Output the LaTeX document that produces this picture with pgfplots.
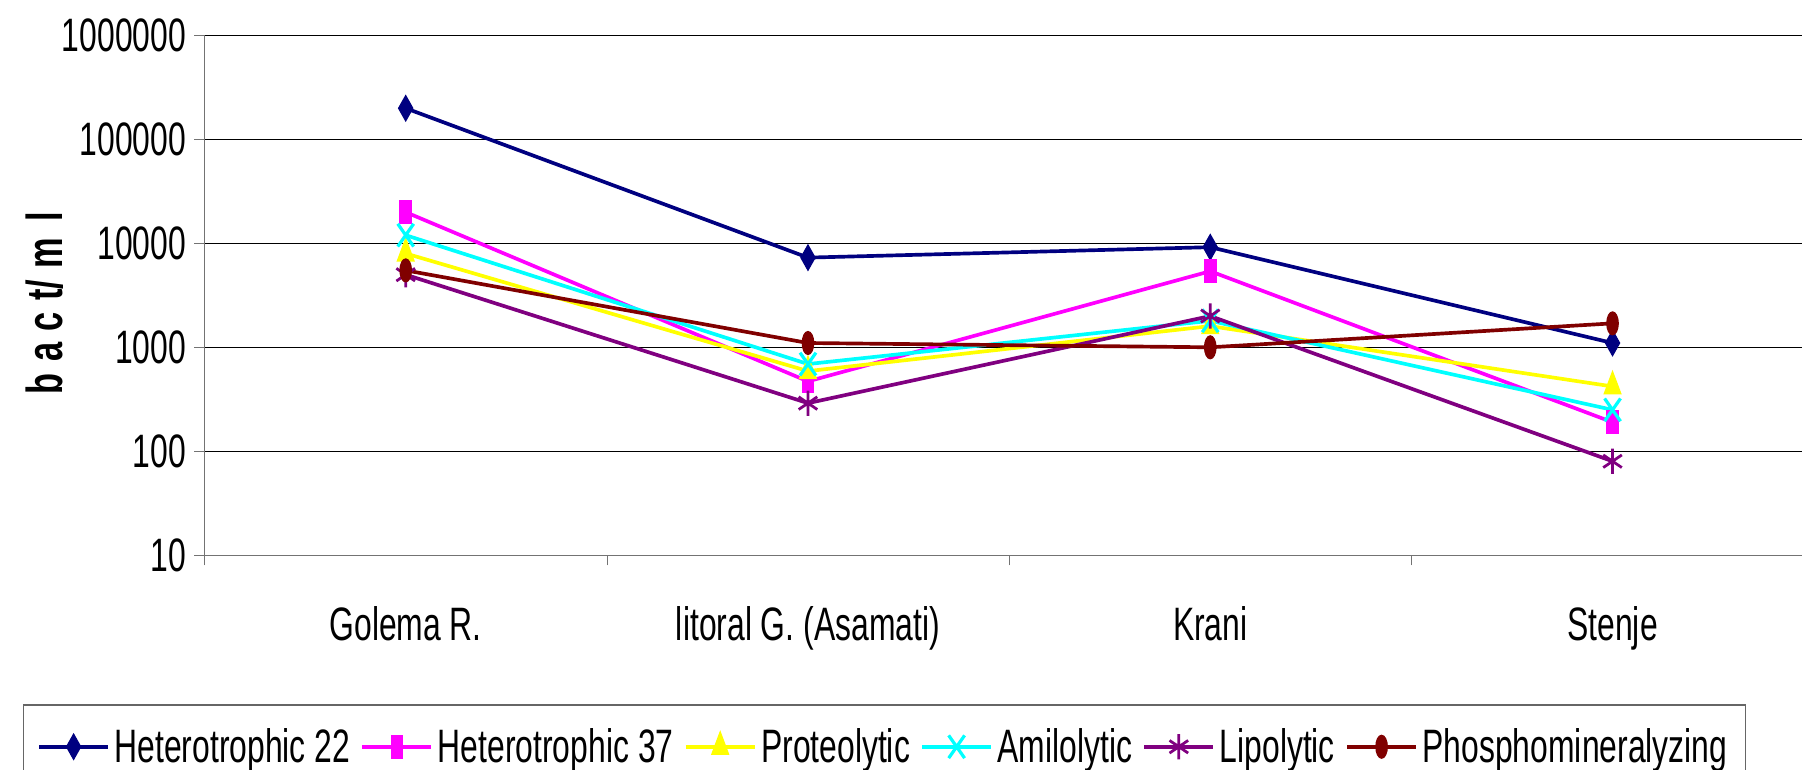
\documentclass[border=0pt]{standalone}
\usepackage{fontspec}
\setmainfont[FakeStretch=0.68]{Liberation Sans}
\usepackage{pgfplots}
\pgfplotsset{compat=1.18}
\definecolor{cNavy}{RGB}{0,0,128}
\definecolor{cMag}{RGB}{255,0,255}
\definecolor{cYel}{RGB}{255,255,0}
\definecolor{cCya}{RGB}{0,255,255}
\definecolor{cPur}{RGB}{128,0,128}
\definecolor{cDred}{RGB}{128,0,0}
\newcommand{\bigf}{\fontsize{20.4}{23}\selectfont}
\begin{document}
\begin{tikzpicture}
\begin{axis}[
  scale only axis,
  width=695pt, height=226pt,
  ymode=log, ymin=10, ymax=1000000,
  xmin=-0.5, xmax=3.471,
  axis x line*=bottom, axis y line*=left,
  axis line style={-, draw=black!55},
  ytick={10,100,1000,10000,100000,1000000},
  yticklabels={10,100,1000,10000,100000,1000000},
  yminorticks=false,
  ymajorgrids=true,
  grid style={black, line width=0.5pt},
  tick align=outside, major tick length=4.5pt,
  tick style={draw=black!55},
  xtick={-0.5,0.5,1.5,2.5}, xticklabels={},
  extra x ticks={0,1,2,3},
  extra x tick labels={Golema R.,litoral G. (Asamati),Krani,Stenje},
  extra x tick style={major tick length=0pt, grid=none, xticklabel style={yshift=-19pt}},
  ticklabel style={font=\bigf},
  /pgf/number format/assume math mode=true,
  ylabel={b\hspace{5pt}a\hspace{5pt}c\hspace{5pt}t/\hspace{5pt}m\hspace{7pt}l},
  ylabel style={font=\bfseries\fontsize{22}{24}\selectfont, at={(axis description cs:-0.100,0.485)}, anchor=center},
  clip=true,
  every axis plot/.append style={line width=1.6pt},
  legend columns=6,
  legend style={at={(axis description cs:-0.1137,-0.2876)}, anchor=north west,
    draw=black!60, line width=0.5pt, font=\bigf, inner xsep=6pt, inner ysep=8pt,
    /tikz/every even column/.append style={column sep=2.5pt}},
  legend image code/.code={\draw[mark repeat=2,mark phase=2,#1] plot coordinates {(0pt,0pt)(15pt,0pt)(30pt,0pt)};},
]
\addplot[cNavy, mark=diamond*, mark size=5.5pt, mark options={solid, fill=cNavy, xscale=0.75, line width=0.5pt}]
  coordinates {(0,200000) (1,7300) (2,9200) (3,1100)};
\addlegendentry{Heterotrophic 22}
\addplot[cMag, mark=square*, mark size=5pt, mark options={solid, fill=cMag, xscale=0.5, line width=0.5pt}]
  coordinates {(0,20000) (1,470) (2,5400) (3,190)};
\addlegendentry{Heterotrophic 37}
\addplot[cYel, mark=triangle*, mark size=6.5pt, mark options={solid, fill=cYel, xscale=0.65, line width=0.5pt}]
  coordinates {(0,8000) (1,590) (2,1600) (3,420)};
\addlegendentry{Proteolytic}
\addplot[cCya, mark=x, mark size=7pt, mark options={solid, xscale=0.7, line width=1.4pt}]
  coordinates {(0,12000) (1,690) (2,1800) (3,250)};
\addlegendentry{Amilolytic}
\addplot[cPur, mark=asterisk, mark size=5.5pt, mark options={solid, xscale=0.85, line width=1.2pt}]
  coordinates {(0,5000) (1,290) (2,2000) (3,80)};
\addlegendentry{Lipolytic}
\addplot[cDred, mark=*, mark size=5pt, mark options={solid, fill=cDred, xscale=0.5, line width=0.5pt}]
  coordinates {(0,5500) (1,1100) (2,1000) (3,1700)};
\addlegendentry{Phosphomineralyzing}
\end{axis}
\pgfresetboundingbox
\path[use as bounding box] (-89pt,-93.5pt) rectangle (695pt,241.5pt);
\end{tikzpicture}
\end{document}
